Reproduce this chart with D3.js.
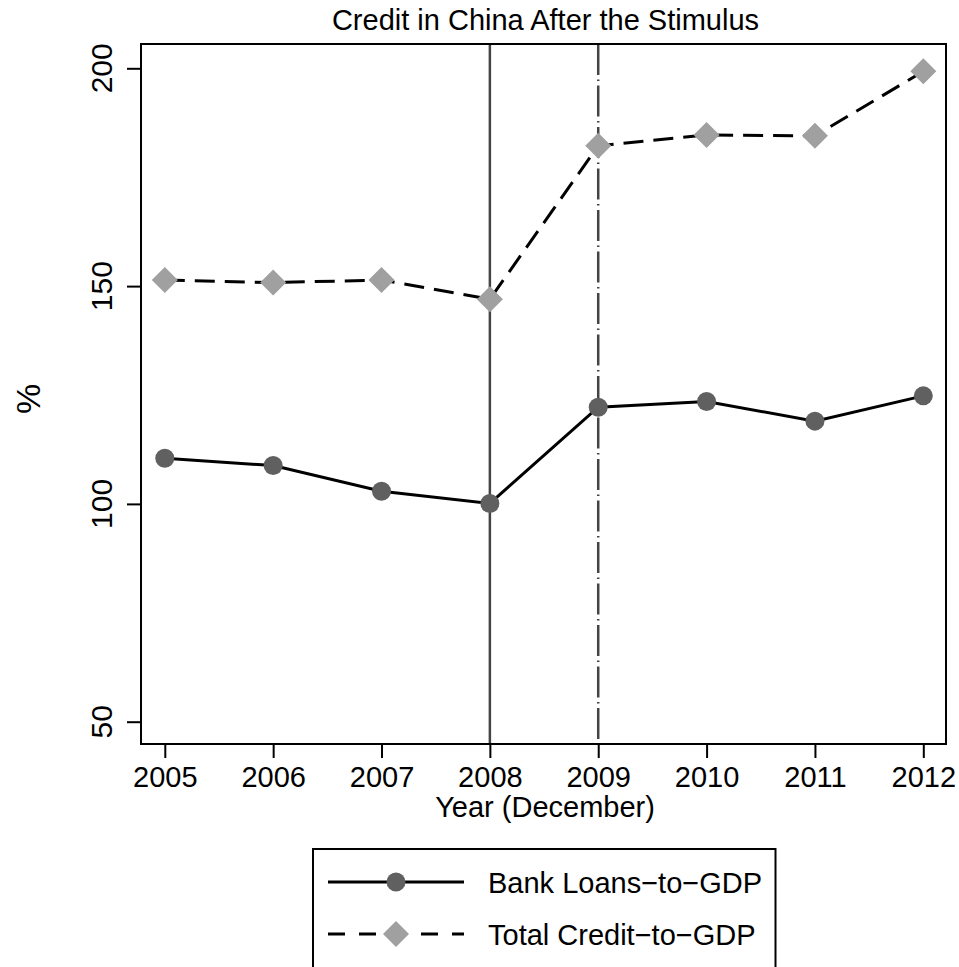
<!DOCTYPE html>
<html>
<head>
<meta charset="utf-8">
<script src="https://cdn.jsdelivr.net/npm/d3@7"></script>
<style>
  body { margin: 0; background: #fff; }
  text { font-family: "Liberation Sans", Arial, sans-serif; fill: #000; }
</style>
</head>
<body>
<div id="chart"></div>
<script>
// data
const years = [2005, 2006, 2007, 2008, 2009, 2010, 2011, 2012];
const bankLoans = [110.5, 108.8, 102.9, 100.1, 122.2, 123.5, 119.0, 124.8];
const totalCredit = [151.4, 150.8, 151.4, 147.0, 182.2, 184.7, 184.5, 199.3];
const yTicks = [50, 100, 150, 200];
const markerYears = [2008, 2009];
const seriesNames = ["Bank Loans\u2212to\u2212GDP", "Total Credit\u2212to\u2212GDP"];

const width = 959;
const height = 967;
const fs = 29;

const svg = d3.select("#chart").append("svg")
  .attr("width", width)
  .attr("height", height);

const plot = { left: 141, top: 44, right: 946, bottom: 744 };

const x = d3.scaleLinear().domain([2005, 2012]).range([164.8, 923.3]);
const y = d3.scaleLinear().domain([50, 200]).range([721.7, 68.3]);

// title
svg.append("text")
  .attr("x", (plot.left + plot.right) / 2 + 2)
  .attr("y", 30)
  .attr("text-anchor", "middle")
  .style("font-size", fs + "px")
  .text("Credit in China After the Stimulus");

// event lines
svg.selectAll("line.event")
  .data(markerYears)
  .enter().append("line")
  .attr("class", "event")
  .attr("x1", d => x(d))
  .attr("x2", d => x(d))
  .attr("y1", plot.top)
  .attr("y2", plot.bottom)
  .attr("stroke", "#444")
  .attr("stroke-width", 2.5)
  .attr("stroke-dasharray", (d, i) => i === 0 ? null : "31,4.5,1.5,4.5");

// series lines
const line = d3.line().x((d, i) => x(years[i])).y(d => y(d));

svg.append("path")
  .datum(bankLoans)
  .attr("d", line)
  .attr("fill", "none")
  .attr("stroke", "#000")
  .attr("stroke-width", 3);

svg.append("path")
  .datum(totalCredit)
  .attr("d", line)
  .attr("fill", "none")
  .attr("stroke", "#000")
  .attr("stroke-width", 3)
  .attr("stroke-dasharray", "20,10");

// markers
const diamond = d3.symbol().type(d3.symbolSquare).size(338);

svg.selectAll("circle.bank")
  .data(bankLoans)
  .enter().append("circle")
  .attr("class", "bank")
  .attr("cx", (d, i) => x(years[i]))
  .attr("cy", d => y(d))
  .attr("r", 9.5)
  .attr("fill", "#606060");

svg.selectAll("path.total")
  .data(totalCredit)
  .enter().append("path")
  .attr("class", "total")
  .attr("d", diamond)
  .attr("transform", (d, i) => `translate(${x(years[i])},${y(d)}) rotate(45)`)
  .attr("fill", "#a0a0a0");

// frame
svg.append("rect")
  .attr("x", plot.left)
  .attr("y", plot.top)
  .attr("width", plot.right - plot.left)
  .attr("height", plot.bottom - plot.top)
  .attr("fill", "none")
  .attr("stroke", "#000")
  .attr("stroke-width", 2);

// x axis
const xAxis = svg.append("g")
  .attr("transform", `translate(0,${plot.bottom})`)
  .call(d3.axisBottom(x).tickValues(years).tickFormat(d3.format("d")).tickSize(14));
xAxis.select(".domain").remove();
xAxis.selectAll(".tick line").attr("stroke-width", 2);
xAxis.selectAll(".tick text")
  .attr("y", 43)
  .attr("dy", 0)
  .style("font-size", fs + "px")
  .style("font-family", "\"Liberation Sans\", Arial, sans-serif")
  .attr("fill", "#000");

svg.append("text")
  .attr("x", 545)
  .attr("y", 817)
  .attr("text-anchor", "middle")
  .style("font-size", fs + "px")
  .text("Year (December)");

// y axis
const yAxis = svg.append("g")
  .attr("transform", `translate(${plot.left},0)`)
  .call(d3.axisLeft(y).tickValues(yTicks).tickSize(14).tickFormat(""));
yAxis.select(".domain").remove();
yAxis.selectAll(".tick line").attr("stroke-width", 2);

svg.selectAll("text.ylab")
  .data(yTicks)
  .enter().append("text")
  .attr("class", "ylab")
  .attr("transform", d => `translate(112,${y(d)}) rotate(-90)`)
  .attr("text-anchor", "middle")
  .style("font-size", "30px")
  .text(d => d);

svg.append("text")
  .attr("transform", `translate(40,${(plot.top + plot.bottom) / 2 + 5}) rotate(-90)`)
  .attr("text-anchor", "middle")
  .style("font-size", "34px")
  .text("%");

// legend
const legend = svg.append("g");
legend.append("rect")
  .attr("x", 313)
  .attr("y", 849)
  .attr("width", 462.5)
  .attr("height", 140)
  .attr("fill", "#fff")
  .attr("stroke", "#000")
  .attr("stroke-width", 2);

const rows = [882, 934];
rows.forEach((ry, i) => {
  legend.append("line")
    .attr("x1", 328).attr("x2", 464)
    .attr("y1", ry).attr("y2", ry)
    .attr("stroke", "#000")
    .attr("stroke-width", 3)
    .attr("stroke-dasharray", i === 0 ? null : "17,14");
  if (i === 0) {
    legend.append("circle")
      .attr("cx", 396).attr("cy", ry).attr("r", 9.5)
      .attr("fill", "#606060");
  } else {
    legend.append("path")
      .attr("d", diamond)
      .attr("transform", `translate(396,${ry}) rotate(45)`)
      .attr("fill", "#a0a0a0");
  }
  legend.append("text")
    .attr("x", 488)
    .attr("y", ry + 11)
    .style("font-size", fs + "px")
    .text(seriesNames[i]);
});
</script>
</body>
</html>
